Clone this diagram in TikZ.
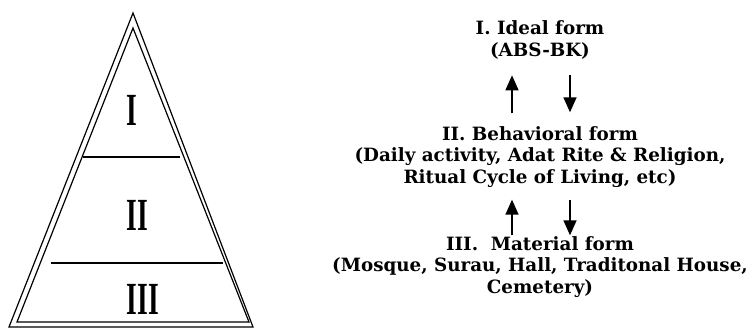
\documentclass[tikz,border=0pt]{standalone}
\usepackage{fontspec}
\setmainfont{DejaVu Serif}
\newfontfamily\numeralfont{Liberation Serif}
\usetikzlibrary{arrows.meta}
\tikzset{
	formtext/.style={align=center, inner sep=0pt, font=\fontsize{18.3}{21.5}\selectfont\bfseries},
	numeral/.style={anchor=west, inner sep=0pt, font=\fontsize{46}{46}\selectfont\numeralfont\bfseries},
	flow/.style={line width=1.5pt, -{Triangle[width=13pt,length=15pt]}}
}
\begin{document}
	\begin{tikzpicture}[x=1pt, y=-1pt, line join=miter, line cap=butt]
		\useasboundingbox (0,0) rectangle (747,328);
		\begin{scope}[line width=1.2pt]
			\draw (133,13)--(253,327)--(9,327)--cycle;
			\draw (133,28)--(249,322)--(17,322)--cycle;
			\draw (83,157)--(180,157);
			\draw (51,263)--(223,263);
			\node[numeral] (one) at (126,110) {\scalebox{0.6}[1]{I}};
			\node[numeral] (two) at (126,215) {\scalebox{0.6}[1]{II}};
			\node[numeral] (three) at (126,299) {\scalebox{0.6}[1]{III}};
		\end{scope}
		\node[formtext] (ideal) at (540,40) {I. Ideal form\\(ABS-BK)};
		\node[formtext] (behav) at (540,157) {II. Behavioral form\\(Daily activity, Adat Rite \& Religion,\\Ritual Cycle of Living, etc)};
		\node[formtext] (material) at (540,267) {III.\ \ Material form\\(Mosque, Surau, Hall, Traditonal House,\\Cemetery)};
		\draw[flow, shorten <=13pt, shorten >=16pt] ([xshift=-28pt]behav.north) -- ([xshift=-28pt]ideal.south);
		\draw[flow, shorten <=16pt, shorten >=14pt] ([xshift=30pt]ideal.south) -- ([xshift=30pt]behav.north);
		\draw[flow, shorten <=1pt, shorten >=12pt] ([xshift=-28pt]material.north) -- ([xshift=-28pt]behav.south);
		\draw[flow, shorten <=12pt, shorten >=1pt] ([xshift=30pt]behav.south) -- ([xshift=30pt]material.north);
	\end{tikzpicture}
\end{document}
